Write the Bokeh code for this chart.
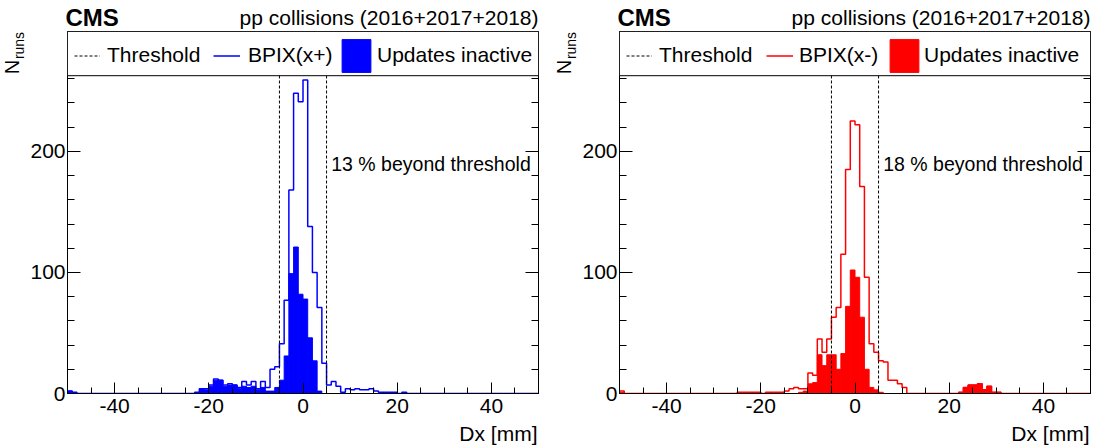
import math
from bokeh.plotting import figure
from bokeh.models import (Plot, Range1d, FixedTicker, LinearAxis, BoxAnnotation, Label,
                          Legend, LegendItem)
from bokeh.layouts import row, column
from bokeh.embed import file_html
from bokeh.resources import INLINE

# ---------------- data ----------------
bin_edges = list(range(-50, 51))          # 1 mm bins from -50 to 50

# BPIX(x+) : all runs (outline) and runs with updates inactive (filled)
xp_all = [2, 1, 0, 0, 0, 0, 0, 0, 0, 0,
          0, 0, 0, 0, 0, 0, 0, 0, 0, 0,
          0, 0, 0, 0, 0, 0, 0, 1, 4, 4,
          7, 12, 11, 7, 8, 7, 5, 10, 7, 10,
          4, 10, 5, 20, 22, 41, 77, 168, 248, 241,
          259, 138, 100, 71, 25, 7, 10, 6, 1, 4,
          3, 4, 3, 3, 4, 2, 1, 1, 1, 1,
          0, 1, 0, 0, 0, 0, 0, 0, 0, 0,
          0, 0, 0, 0, 0, 0, 0, 0, 0, 0,
          0, 0, 0, 0, 0, 0, 0, 0, 0, 0]
xp_inactive = [2, 0, 0, 0, 0, 0, 0, 0, 0, 0,
               0, 0, 0, 0, 0, 0, 0, 0, 0, 0,
               0, 0, 0, 0, 0, 0, 0, 0, 4, 3,
               6, 11, 11, 6, 7, 7, 4, 6, 5, 6,
               3, 5, 2, 2, 5, 11, 31, 99, 121, 82,
               78, 46, 27, 2, 0, 0, 0, 0, 0, 0,
               0, 0, 0, 0, 0, 0, 0, 0, 0, 0,
               0, 0, 0, 0, 0, 0, 0, 0, 0, 0,
               0, 0, 0, 0, 0, 0, 0, 0, 0, 0,
               0, 0, 0, 0, 0, 0, 0, 0, 0, 0]

# BPIX(x-)
xm_all = [2, 0, 0, 0, 0, 0, 0, 0, 0, 0,
          0, 0, 0, 0, 0, 0, 0, 0, 0, 0,
          0, 0, 0, 0, 0, 1, 1, 1, 1, 1,
          0, 1, 1, 1, 1, 2, 4, 5, 4, 4,
          17, 15, 45, 34, 45, 63, 71, 115, 185, 225,
          222, 171, 96, 41, 34, 27, 26, 11, 11, 8,
          5, 0, 0, 0, 0, 0, 0, 0, 0, 0,
          0, 0, 1, 5, 7, 7, 8, 3, 6, 1,
          1, 0, 0, 0, 0, 0, 0, 0, 0, 0,
          0, 0, 0, 0, 0, 0, 0, 0, 0, 0]
xm_inactive = [1, 0, 0, 0, 0, 0, 0, 0, 0, 0,
               0, 0, 0, 0, 0, 0, 0, 0, 0, 0,
               0, 0, 0, 0, 0, 0, 0, 0, 0, 0,
               0, 0, 0, 0, 0, 0, 0, 0, 1, 2,
               8, 9, 32, 23, 32, 32, 20, 33, 72, 102,
               96, 63, 20, 5, 3, 1, 0, 0, 0, 0,
               0, 0, 0, 0, 0, 0, 0, 0, 0, 0,
               0, 0, 1, 5, 7, 7, 8, 3, 6, 1,
               1, 0, 0, 0, 0, 0, 0, 0, 0, 0,
               0, 0, 0, 0, 0, 0, 0, 0, 0, 0]

threshold = 5
series_names = ["BPIX(x+)", "BPIX(x-)"]
beyond_texts = ["13 % beyond threshold", "18 % beyond threshold"]
series_colors = ["#0000ff", "#ff0000"]
title_left = "CMS"
title_right = "pp collisions (2016+2017+2018)"
x_title = "Dx [mm]"
y_title_main = "N"
y_title_sub = "runs"
legend_names = ["Threshold", "Updates inactive"]

x_major_ticks = [-40, -20, 0, 20, 40]
x_tick_labels = ["-40", "-20", "0", "20", "40"]
x_minor_ticks = list(range(-50, 51, 5))
y_major_ticks = [0, 100, 200]
y_tick_labels = ["0", "100", "200"]
y_minor_ticks = list(range(0, 261, 20))
x_lo, x_hi = -50, 50
y_top = 299
legend_floor = 262.5

FONT = "Liberation Sans"
FS = "21px"

HEADER_H = 30
MAIN_H = 392
FOOTER_H = 23
STRIP_W = 27
MAIN_BL = 38
MAIN_BT = 1
MAIN_BB = 29
FRAME_W = 473
DY = 7          # compensation of the label baseline placement

HAS_FRAME_ALIGN = "frame_align" in Plot.properties()


def blank(width, height, bt=0, bb=0):
    f = figure(width=width, height=height, output_backend="svg", title=None,
               toolbar_location=None, x_axis_location=None, y_axis_location=None,
               min_border_left=0, min_border_right=0,
               min_border_top=bt, min_border_bottom=bb,
               x_range=Range1d(0, 1), y_range=Range1d(0, 1))
    f.grid.visible = False
    f.outline_line_color = None
    f.background_fill_color = "white"
    f.border_fill_color = "white"
    if HAS_FRAME_ALIGN:
        f.frame_align = False
    return f


def panel(all_vals, inact_vals, name, color, beyond_text, leg_x, leg_sd, border_right):
    main_w = MAIN_BL + FRAME_W + border_right
    total_w = STRIP_W + main_w
    frame_h = MAIN_H - MAIN_BT - MAIN_BB

    p = figure(width=main_w, height=MAIN_H, output_backend="svg",
               toolbar_location=None,
               x_range=Range1d(x_lo, x_hi), y_range=Range1d(0, y_top),
               min_border_left=MAIN_BL, min_border_right=border_right,
               min_border_top=MAIN_BT, min_border_bottom=MAIN_BB)
    p.grid.visible = False
    p.outline_line_color = "black"
    p.outline_line_width = 1
    p.border_fill_color = "white"
    p.background_fill_color = "white"

    r_fill = p.quad(left=bin_edges[:-1], right=bin_edges[1:], bottom=0,
                    top=inact_vals, fill_color=color, line_color=color,
                    line_width=1)
    r_line = p.step(x=bin_edges, y=all_vals + [all_vals[-1]], mode="after",
                    line_color=color, line_width=1.5)
    r_thr = p.segment(x0=[-threshold, threshold], x1=[-threshold, threshold],
                      y0=[0, 0], y1=[y_top, y_top], line_color="black",
                      line_dash="3 2", line_width=1)

    xa = p.xaxis[0]
    xa.ticker = FixedTicker(ticks=x_major_ticks, minor_ticks=x_minor_ticks)
    xa.major_label_overrides = dict(zip(x_major_ticks, x_tick_labels))
    xa.major_tick_in, xa.major_tick_out = 11, 0
    xa.minor_tick_in, xa.minor_tick_out = 6, 0
    xa.major_label_standoff = 5
    xa.major_label_text_font = FONT
    xa.major_label_text_font_size = FS
    xa.major_label_text_color = "black"
    xa.axis_line_color = "black"

    ya = p.yaxis[0]
    ya.ticker = FixedTicker(ticks=y_major_ticks, minor_ticks=y_minor_ticks)
    ya.major_label_overrides = dict(zip(y_major_ticks, y_tick_labels))
    ya.major_tick_in, ya.major_tick_out = 13, 0
    ya.minor_tick_in, ya.minor_tick_out = 7, 0
    ya.major_label_standoff = 2
    ya.major_label_text_font = FONT
    ya.major_label_text_font_size = FS
    ya.major_label_text_color = "black"
    ya.axis_line_color = "black"

    ra = LinearAxis(ticker=FixedTicker(ticks=y_major_ticks, minor_ticks=y_minor_ticks),
                    major_label_overrides={t: "" for t in y_major_ticks},
                    major_tick_in=13, major_tick_out=0,
                    minor_tick_in=7, minor_tick_out=0,
                    major_label_standoff=0, major_label_text_font_size="1px",
                    axis_line_color="black")
    p.add_layout(ra, "right")

    box = BoxAnnotation(bottom=legend_floor, fill_color="white", fill_alpha=1.0,
                        line_color="black", line_alpha=1.0, line_width=1)
    p.add_layout(box)

    H = 41
    ly = (frame_h - 24) - H / 2.0
    specs = [(legend_names[0], r_thr, 26, leg_x[0], leg_sd[0]),
             (name, r_line, 27, leg_x[1], leg_sd[1]),
             (legend_names[1], r_fill, 36, leg_x[2], leg_sd[2])]
    for label, rend, gw, lx, sd in specs:
        leg = Legend(items=[LegendItem(label=label, renderers=[rend])],
                     location=(lx, ly), orientation="horizontal",
                     padding=0, margin=0, spacing=0,
                     border_line_color=None, background_fill_alpha=0,
                     glyph_width=gw, glyph_height=H, label_height=H,
                     label_standoff=sd, label_text_font=FONT,
                     label_text_font_size=FS, label_text_color="black")
        p.add_layout(leg)

    p.add_layout(Label(x=threshold + 1, y=frame_h - 139 + DY, x_units="data",
                       y_units="screen", text=beyond_text, text_font=FONT,
                       text_font_size="19.5px", text_baseline="alphabetic",
                       text_color="black"))

    # header with experiment tag and data-set description
    head = blank(total_w, HEADER_H)
    fl = STRIP_W + MAIN_BL
    head.add_layout(Label(x=fl, y=6 + DY, x_units="screen", y_units="screen",
                          text=title_left, text_font=FONT, text_font_style="bold",
                          text_font_size="24px", text_baseline="alphabetic",
                          text_color="black"))
    head.add_layout(Label(x=fl + FRAME_W, y=6 + DY, x_units="screen",
                          y_units="screen", text=title_right, text_font=FONT,
                          text_font_size=FS, text_align="right",
                          text_baseline="alphabetic", text_color="black"))

    # strip with the y-axis title (frame matches the main frame vertically);
    # rotated texts are anchored by their centre, measured down from the frame top
    strip = blank(STRIP_W, MAIN_H, bt=MAIN_BT, bb=MAIN_BB)
    strip.add_layout(Label(x=11, y=frame_h - 35.5, x_units="screen",
                           y_units="screen", angle=math.pi / 2, text=y_title_main,
                           text_font=FONT, text_font_size="20px",
                           text_align="center", text_baseline="middle",
                           text_color="black"))
    strip.add_layout(Label(x=18.5, y=frame_h - 14, x_units="screen",
                           y_units="screen", angle=math.pi / 2, text=y_title_sub,
                           text_font=FONT, text_font_size="14px",
                           text_align="center", text_baseline="middle",
                           text_color="black"))

    # footer with the x-axis title
    foot = blank(total_w, FOOTER_H)
    foot.add_layout(Label(x=fl + FRAME_W - 1, y=5 + DY, x_units="screen",
                          y_units="screen", text=x_title, text_font=FONT,
                          text_font_size=FS, text_align="right",
                          text_baseline="alphabetic", text_color="black"))

    return column(head, row(strip, p), foot)


c1 = panel(xp_all, xp_inactive, series_names[0], series_colors[0], beyond_texts[0],
           [7, 146, 271], [7, 8, 3], 14)
c2 = panel(xm_all, xm_inactive, series_names[1], series_colors[1], beyond_texts[1],
           [7, 147, 267], [7, 6, 2], 4)

layout = row(c1, c2)
open("out.html", "w").write(file_html(layout, INLINE))
